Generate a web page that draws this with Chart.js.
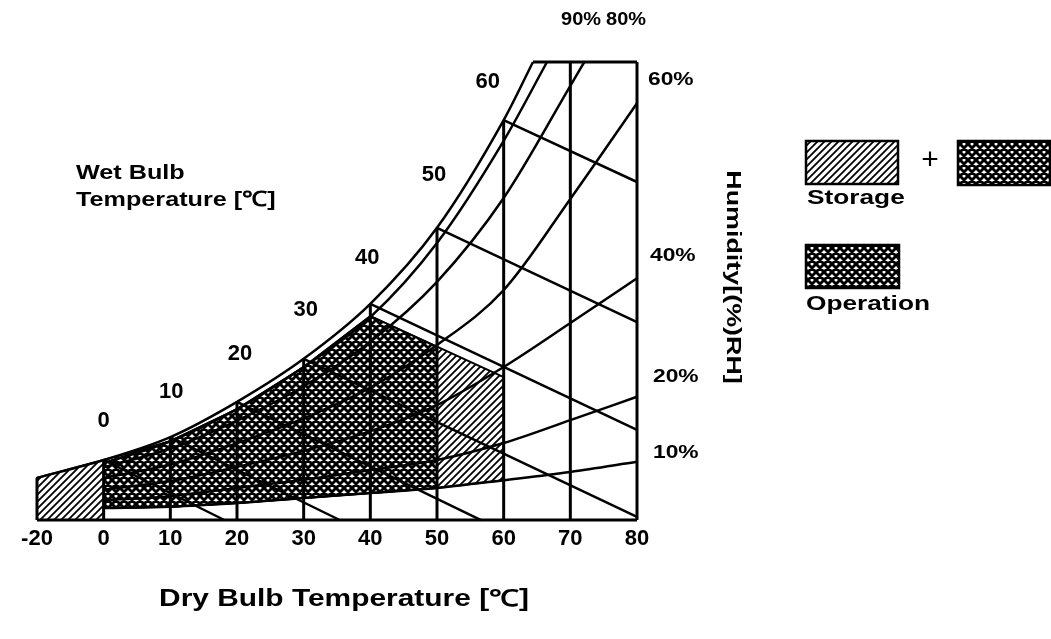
<!DOCTYPE html>
<html lang="en">
  <head>
    <meta charset="UTF-8" />
    <title>Storage / Operation humidity range</title>
    <script src="https://cdn.jsdelivr.net/npm/chart.js@4.4.1/dist/chart.umd.min.js"></script>
    <style>
      html, body { margin: 0; padding: 0; background: #fff; }
      canvas { display: block; }
    </style>
  </head>
  <body>
    <canvas id="myChart" width="1051" height="639"></canvas>

    <script>
      // dry bulb temperatures [°C] - vertical lines and x tick labels
      const dryBulb = [-20, 0, 10, 20, 30, 40, 50, 60, 70, 80];
      // height where each vertical line stops (saturation curve or chart top)
      const dryBulbTop = [9.2, 13.1, 18.1, 25.8, 35.2, 47.2, 63.8, 87.3, 100, 100];

      // saturation curve (100 %RH)
      const satTemps = [-20, 0, 10, 20, 30, 40, 50, 60, 64.4];
      const satValues = [9.2, 13.1, 18.1, 25.8, 35.2, 47.2, 63.8, 87.3, 100];

      // relative humidity curves
      const rh90Temps = [0, 10, 20, 30, 40, 50, 60, 66.5];
      const rh90 = [12.4, 17.2, 24.2, 33.4, 44.3, 60.5, 82.8, 100];
      const rh80Temps = [0, 10, 20, 30, 40, 50, 60, 70, 72.1];
      const rh80 = [11.5, 15.6, 21.7, 29.2, 38.9, 52.0, 70.3, 94.8, 100];
      const rhTemps = [0, 10, 20, 30, 40, 50, 60, 70, 80];
      const rh60 = [9.2, 12.1, 16.8, 22.2, 28.9, 38.2, 50.2, 70.1, 91.0];
      const rh40 = [6.6, 8.5, 11.6, 15.1, 19.4, 25.1, 33.4, 43.0, 52.8];
      const rh20 = [4.3, 5.2, 7.0, 8.8, 10.9, 13.1, 16.8, 21.8, 26.9];
      const rh10 = [2.6, 2.9, 3.7, 4.8, 5.9, 7.0, 8.7, 10.5, 12.7];
      const rhLabels = ["90%", "80%", "60%", "40%", "20%", "10%"];

      // wet bulb lines: start on saturation curve, end on bottom / right edge
      const wetBulb = [0, 10, 20, 30, 40, 50, 60];
      const wbEndTemp = [18.1, 35.4, 56.6, 80, 80, 80, 80];
      const wbEndValue = [0, 0, 0, 0.7, 19.7, 43.2, 73.8];

      // storage range (hatched) and operation range (cross hatched)
      const storageTemps = [-20, -20, 0, 10, 20, 30, 40, 60, 60, 50, 40, 30, 20, 10, 0, 0, -20];
      const storageValues = [0, 9.2, 13.1, 17.2, 24.2, 33.4, 44.5, 31.2, 8.7, 7.0, 5.9, 4.8, 3.7, 2.9, 2.6, 0, 0];
      const operationTemps = [0, 0, 10, 20, 30, 40, 50, 50, 40, 30, 20, 10, 0];
      const operationValues = [2.6, 12.4, 17.2, 24.2, 33.4, 44.5, 37.8, 7.0, 5.9, 4.8, 3.7, 2.9, 2.6];

      const FONT = '"Liberation Sans", Arial, sans-serif';
      const ctx = document.getElementById("myChart");
      const c2d = ctx.getContext("2d");

      // the axis is compressed below 0: -20 sits one grid step left of 0
      const xPos = (t) => (t < 0 ? t / 2 : t);
      const pts = (temps, vals) => temps.map((t, i) => ({ x: xPos(t), y: vals[i] }));

      function hatch() {
        const c = document.createElement("canvas");
        c.width = c.height = 7;
        const g = c.getContext("2d");
        g.fillStyle = "#fff";
        g.fillRect(0, 0, 7, 7);
        g.strokeStyle = "#000";
        g.lineWidth = 1.8;
        g.beginPath();
        g.moveTo(-1, 8); g.lineTo(8, -1);
        g.moveTo(-1, 1); g.lineTo(1, -1);
        g.moveTo(6, 8); g.lineTo(8, 6);
        g.stroke();
        return c2d.createPattern(c, "repeat");
      }

      function crossHatch() {
        const c = document.createElement("canvas");
        c.width = c.height = 8;
        const g = c.getContext("2d");
        g.fillStyle = "#fff";
        g.fillRect(0, 0, 8, 8);
        g.strokeStyle = "#000";
        g.lineWidth = 2.9;
        g.beginPath();
        g.moveTo(-2, -2); g.lineTo(10, 10);
        g.moveTo(-2, 10); g.lineTo(10, -2);
        g.moveTo(6, -2); g.lineTo(10, 2);
        g.moveTo(-2, 6); g.lineTo(2, 10);
        g.moveTo(-2, 2); g.lineTo(2, -2);
        g.moveTo(6, 10); g.lineTo(10, 6);
        g.stroke();
        return c2d.createPattern(c, "repeat");
      }

      const hatchFill = hatch();
      const crossFill = crossHatch();

      function line(data, width, curved) {
        return {
          data: data,
          borderColor: "#000",
          borderWidth: width,
          pointRadius: 0,
          fill: false,
          clip: false,
          order: 1,
          cubicInterpolationMode: curved ? "monotone" : "default",
          tension: 0,
        };
      }

      const datasets = [];
      datasets.push({
        data: pts(storageTemps, storageValues),
        borderColor: "#000",
        borderWidth: 2,
        backgroundColor: hatchFill,
        fill: "shape",
        pointRadius: 0,
        clip: false,
        order: 10,
      });
      datasets.push({
        data: pts(operationTemps, operationValues),
        borderColor: "#000",
        borderWidth: 2,
        backgroundColor: crossFill,
        fill: "shape",
        pointRadius: 0,
        clip: false,
        order: 9,
      });

      datasets.push(line(pts(satTemps, satValues), 2.5, true));
      datasets.push(line(pts(rh90Temps, rh90), 2.5, true));
      datasets.push(line(pts(rh80Temps, rh80), 2.5, true));
      [rh60, rh40, rh20, rh10].forEach((v) => datasets.push(line(pts(rhTemps, v), 2.5, true)));

      wetBulb.forEach((t, i) => {
        const s = satValues[satTemps.indexOf(t)];
        datasets.push(line(pts([t, wbEndTemp[i]], [s, wbEndValue[i]]), 2.5, false));
      });

      dryBulb.forEach((t, i) => {
        datasets.push(line(pts([t, t], [0, dryBulbTop[i]]), 3, false));
      });
      // bottom edge and top edge of the frame
      datasets.push(line(pts([-20, 80], [0, 0]), 3, false));
      datasets.push(line(pts([satTemps[satTemps.length - 1], 80], [100, 100]), 3, false));

      function text(g, str, x, y, size, align, sx, rot, weight) {
        g.save();
        g.translate(x, y);
        if (rot) g.rotate(rot);
        g.scale(sx, 1);
        g.font = (weight || "bold") + " " + size + "px " + FONT;
        g.textAlign = align;
        g.textBaseline = "middle";
        g.fillStyle = "#000";
        g.fillText(str, 0, 0);
        g.restore();
      }

      function box(g, x, y, w, h, pattern) {
        g.fillStyle = pattern;
        g.fillRect(x, y, w, h);
        g.strokeStyle = "#000";
        g.lineWidth = 2.5;
        g.strokeRect(x, y, w, h);
      }

      const labelPlugin = {
        id: "labels",
        afterDraw(chart) {
          const g = chart.ctx;
          const xs = chart.scales.x;
          const ys = chart.scales.y;

          // wet bulb temperature labels, just above the saturation curve
          const dx = [0, 1, 3, 2, -3, -3, -16];
          const dy = [-39, -45, -48, -49, -46, -53, -38];
          wetBulb.forEach((t, i) => {
            const s = satValues[satTemps.indexOf(t)];
            text(g, String(t), xs.getPixelForValue(xPos(t)) + dx[i], ys.getPixelForValue(s) + dy[i], 22, "center", 1);
          });

          // relative humidity labels
          text(g, rhLabels[0], 581, 20, 19, "center", 1.05);
          text(g, rhLabels[1], 626, 20, 19, "center", 1.05);
          text(g, rhLabels[2], 648, 80, 19, "left", 1.2);
          text(g, rhLabels[3], 650, 256, 19, "left", 1.2);
          text(g, rhLabels[4], 653, 377, 19, "left", 1.2);
          text(g, rhLabels[5], 653, 453, 19, "left", 1.2);

          text(g, "Wet Bulb", 76, 173, 21, "left", 1.2);
          text(g, "Temperature [℃]", 76, 200, 21, "left", 1.2);
          text(g, "Dry Bulb Temperature [℃]", 344, 600, 23, "center", 1.3);
          text(g, "Humidity[(%)RH]", 733, 277, 21, "center", 1.28, Math.PI / 2);

          // legend
          box(g, 806, 141, 92, 43, hatchFill);
          text(g, "+", 930, 161, 30, "center", 1, 0, "normal");
          box(g, 958, 141, 92, 44, crossFill);
          text(g, "Storage", 807, 198, 21, "left", 1.25);
          box(g, 806, 245, 93, 43, crossFill);
          text(g, "Operation", 806, 304, 21, "left", 1.25);
        },
      };

      new Chart(ctx, {
        type: "line",
        data: { datasets: datasets },
        options: {
          responsive: false,
          animation: false,
          events: [],
          layout: { padding: { left: 37, right: 414, top: 62, bottom: 0 } },
          plugins: { legend: { display: false }, tooltip: { enabled: false } },
          scales: {
            x: {
              type: "linear",
              min: -10,
              max: 80,
              grid: { display: false, drawTicks: false },
              border: { display: false },
              ticks: {
                stepSize: 10,
                autoSkip: false,
                maxRotation: 0,
                padding: 6,
                color: "#000",
                font: { family: FONT, weight: "bold", size: 22 },
                callback: (v) => (v === -10 ? String(dryBulb[0]) : String(v)),
              },
              afterFit: (s) => {
                s.height = 119;
              },
            },
            y: { display: false, min: 0, max: 100 },
          },
        },
        plugins: [labelPlugin],
      });
    </script>
  </body>
</html>
